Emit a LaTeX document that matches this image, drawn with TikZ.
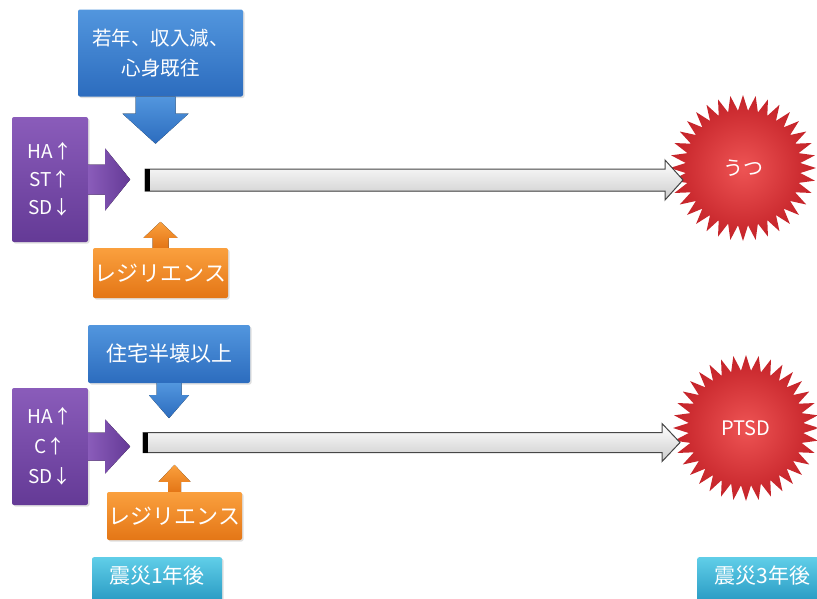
\documentclass[tikz,border=0pt]{standalone}
\usepackage{fontspec}
\newfontfamily\jpfont{Noto Sans CJK JP}
\usetikzlibrary{shapes.geometric,calc,shadows}
\definecolor{myBlue}{RGB}{44, 108, 190}
\definecolor{myBlueLight}{RGB}{82, 150, 222}
\definecolor{myPurple}{RGB}{100, 58, 150}
\definecolor{myPurpleLight}{RGB}{138, 92, 186}
\definecolor{myOrange}{RGB}{228, 118, 22}
\definecolor{myOrangeLight}{RGB}{250, 160, 62}
\definecolor{myTeal}{RGB}{36, 150, 192}
\definecolor{myTealLight}{RGB}{96, 206, 232}
\definecolor{myRed}{RGB}{196, 34, 40}
\definecolor{myRedLight}{RGB}{238, 84, 84}
\tikzset{%%
  box/.style={rounded corners=2pt, text=white, font=\jpfont, align=center,
    inner sep=0pt, drop shadow={opacity=0.25, shadow xshift=1.5pt, shadow yshift=-1.5pt}},
  riskbox/.style={box, top color=myBlueLight, bottom color=myBlue},
  disbox/.style={box, top color=myPurpleLight, bottom color=myPurple},
  resbox/.style={box, top color=myOrangeLight, bottom color=myOrange},
  timebox/.style={box, top color=myTealLight, bottom color=myTeal},
  burst/.style={star, star points=36, star point ratio=1.27, minimum size=146, inner sep=0pt,
    inner color=myRedLight, outer color=myRed, text=white, font=\jpfont\fontsize{20}{22}\selectfont},
  riskarrow/.style={top color=myBlueLight, bottom color=myBlue},
  disarrow/.style={left color=myPurpleLight, right color=myPurple},
  resarrow/.style={top color=myOrangeLight, bottom color=myOrange},
  timearrow/.style={top color=white, bottom color=gray!40, draw=gray!55!black, line width=1pt}
  }

\begin{document}
\begin{tikzpicture}[x=1pt,y=-1pt]
  \useasboundingbox (0,0) rectangle (817,598);
  % upper row
  \node[riskbox, minimum width=165, minimum height=87, font=\jpfont\fontsize{19.5}{30}\selectfont]
    (risk1) at (160.5,53) {若年、収入減、\\心身既往};
  \node[disbox, minimum width=76, minimum height=125, font=\jpfont\fontsize{19}{28}\selectfont]
    (dis1) at (50,179.5) {HA↑\\ST↑\\SD↓};
  \node[resbox, minimum width=135, minimum height=50, font=\jpfont\fontsize{22}{24}\selectfont]
    (res1) at (160.5,273) {レジリエンス};
  \node[burst] (dep) at (743,168) {うつ};
  \coordinate (s1) at (145,180);
  \coordinate (e1) at (683,180);
  \fill[riskarrow] ($(risk1.south)+(-25,0)$) -- ++(40,0) -- ++(0,17) -- ++(13,0)
    -- ++(-33,30) -- ++(-33,-30) -- ++(13,0) -- cycle;
  \fill[disarrow] ($(dis1.east)+(0,-15)$) -- ++(17,0) -- ++(0,-16) -- ++(25,31)
    -- ++(-25,31) -- ++(0,-16) -- ++(-17,0) -- cycle;
  \fill[resarrow] ($(res1.north)+(-8,0)$) -- ++(0,-10) -- ++(-9,0) -- ++(17,-16)
    -- ++(17,16) -- ++(-9,0) -- ++(0,10) -- cycle;
  \filldraw[timearrow] ($(s1)+(0,-11)$) -- ($(e1)+(-18,-11)$) -- ($(e1)+(-18,-20)$) -- (e1)
    -- ($(e1)+(-18,20)$) -- ($(e1)+(-18,11)$) -- ($(s1)+(0,11)$) -- cycle;
  \fill[black] ($(s1)+(0,-11)$) rectangle ($(s1)+(5,11)$);
  % lower row
  \node[riskbox, minimum width=162, minimum height=58, font=\jpfont\fontsize{21}{24}\selectfont]
    (risk2) at (169,354) {住宅半壊以上};
  \node[disbox, minimum width=76, minimum height=117, font=\jpfont\fontsize{19}{30}\selectfont]
    (dis2) at (50,446.5) {HA↑\\C↑\\SD↓};
  \node[resbox, minimum width=135, minimum height=48, font=\jpfont\fontsize{22}{24}\selectfont]
    (res2) at (174.5,516) {レジリエンス};
  \node[burst] (ptsd) at (746,428) {PTSD};
  \coordinate (s2) at (143,442.5);
  \coordinate (e2) at (680,442.5);
  \fill[riskarrow] ($(risk2.south)+(-12.5,0)$) -- ++(25,0) -- ++(0,12) -- ++(7.5,0)
    -- ++(-20,23) -- ++(-20,-23) -- ++(7.5,0) -- cycle;
  \fill[disarrow] ($(dis2.east)+(0,-14)$) -- ++(17,0) -- ++(0,-13) -- ++(25,27)
    -- ++(-25,27) -- ++(0,-13) -- ++(-17,0) -- cycle;
  \fill[resarrow] ($(res2.north)+(-6.5,0)$) -- ++(0,-10) -- ++(-9.5,0) -- ++(16,-17)
    -- ++(16,17) -- ++(-9.5,0) -- ++(0,10) -- cycle;
  \filldraw[timearrow] ($(s2)+(0,-10)$) -- ($(e2)+(-18,-10)$) -- ($(e2)+(-18,-19)$) -- (e2)
    -- ($(e2)+(-18,19)$) -- ($(e2)+(-18,10)$) -- ($(s2)+(0,10)$) -- cycle;
  \fill[black] ($(s2)+(0,-10)$) rectangle ($(s2)+(5,10)$);
  % time axis
  \node[timebox, anchor=north, minimum width=130, minimum height=48, text height=18pt, text depth=14pt,
    font=\jpfont\fontsize{21}{24}\selectfont] (t1) at (157,557) {震災1年後};
  \node[timebox, anchor=north west, minimum width=130, minimum height=48, text height=18pt, text depth=14pt,
    font=\jpfont\fontsize{21}{24}\selectfont] (t3) at (697,557) {震災3年後};
\end{tikzpicture}
\end{document}
